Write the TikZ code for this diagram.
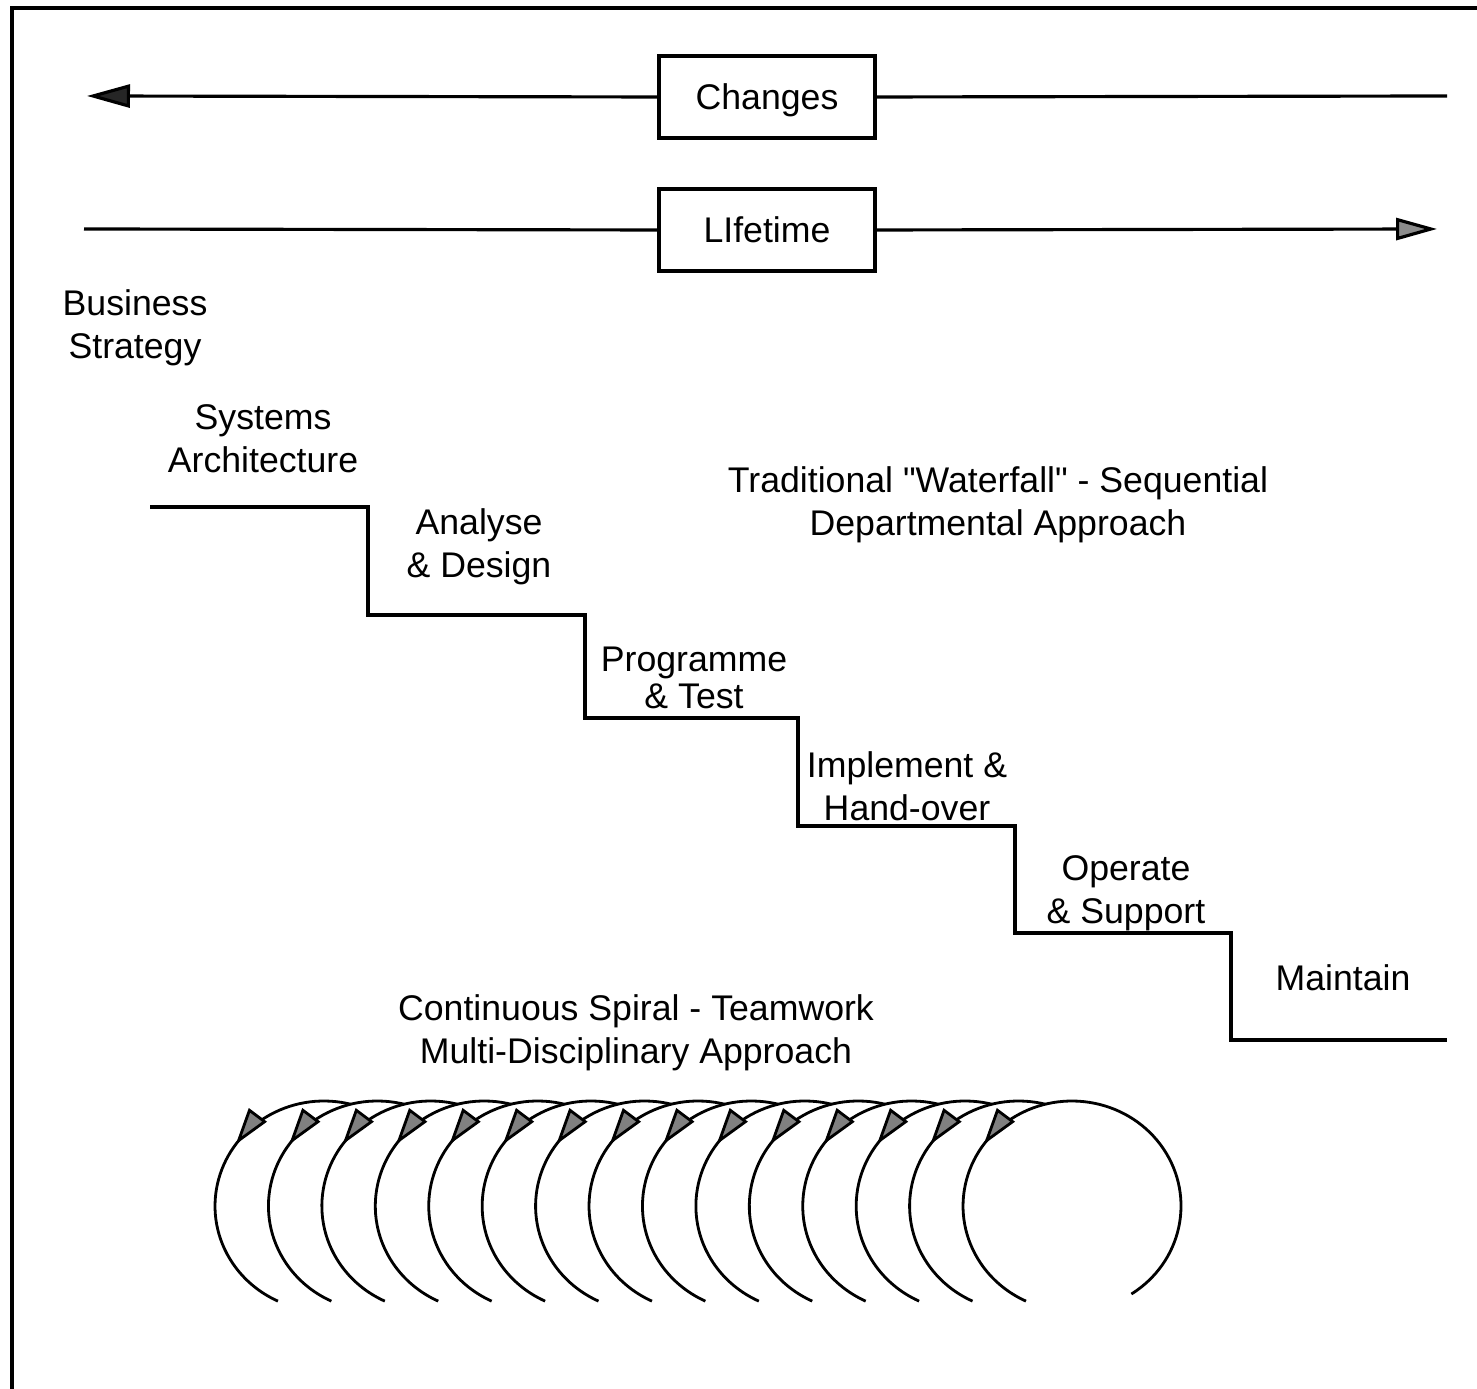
\documentclass[tikz,border=0pt]{standalone}
\usepackage{fontspec}
\newfontfamily\labelfont{Liberation Sans}
\usetikzlibrary{arrows.meta,decorations.markings}
\begin{document}
\begin{tikzpicture}[x=0.02cm,y=0.02cm,
  rule/.style={line width=1.8pt},
  lbl/.style={font=\labelfont\fontsize{20.3}{24.4}\selectfont, align=center, inner sep=0pt},
  tbox/.style={draw, line width=1.8pt, minimum width=4.32cm, minimum height=1.64cm,
    inner sep=0pt, text depth=0pt, font=\labelfont\fontsize{20.3}{24.4}\selectfont},
  darktip/.style={-{Triangle[length=0.86cm,width=0.46cm,fill=black!85]}},
  greytip/.style={-{Triangle[length=0.82cm,width=0.44cm,fill=black!45]}},
  loopline/.style={line width=1.6pt, postaction=decorate,
    decoration={markings, mark=at position 0.668 with
      {\arrow{Triangle[length=0.74cm,width=0.44cm,fill=black!50]}}}}
]
\useasboundingbox (0,0) rectangle (1477,1389);

% frame (top and left edges)
\draw[line width=2pt] (1477,1381) -- (12,1381) -- (12,0);

% Changes / Lifetime bars
\node[tbox] (chg) at (767,1292) {Changes};
\coordinate (chgL) at (87,1293);
\coordinate (chgR) at (1447,1293);
\draw[rule,darktip] (chg.west) -- (chgL);
\draw[rule] (chg.east) -- (chgR);

\node[tbox] (life) at (767,1159) {LIfetime};
\coordinate (lifeL) at (84,1160);
\coordinate (lifeR) at (1437,1160);
\draw[rule] (lifeL) -- (life.west);
\draw[rule,greytip] (life.east) -- (lifeR);

% waterfall stages
\node[lbl] (bus)  at (135,1061) {Business\\Strategy};
\node[lbl] (sys)  at (263,950)  {Systems\\Architecture};
\node[lbl] (ana)  at (479,842)  {Analyse\\\& Design};
\node[lbl, font=\labelfont\fontsize{20.3}{21.5}\selectfont] (prog) at (694,711) {Programme\\\& Test};
\node[lbl] (imp)  at (907,603)  {Implement \&\\Hand-over};
\node[lbl] (ops)  at (1126,496) {Operate\\\& Support};
\node[lbl] (mnt)  at (1343,411) {Maintain};
\node[lbl] (trad) at (998,884)  {Traditional "Waterfall" - Sequential\\Departmental Approach};
\node[lbl] (cont) at (636,356)  {Continuous Spiral - Teamwork\\Multi-Disciplinary Approach};

% staircase
\draw[rule] (150,882) -- (368,882) -- (368,774) -- (585,774) -- (585,671)
  -- (798,671) -- (798,563) -- (1015,563) -- (1015,456) -- (1231,456)
  -- (1231,349) -- (1447,349);

% continuous spiral: open loops drawn left to right, each hiding the one before
\foreach \i in {0,...,14}{
  \pgfmathsetmacro\cx{324+53.43*\i}
  \coordinate (loop\i) at (\cx,183);
  \fill[white] (loop\i) ellipse [x radius=2.18cm, y radius=2.1cm];
  \draw[loopline] (loop\i) ++(-57:2.18cm and 2.1cm)
    arc[start angle=-57, end angle=245, x radius=2.18cm, y radius=2.1cm];
}
\end{tikzpicture}
\end{document}
